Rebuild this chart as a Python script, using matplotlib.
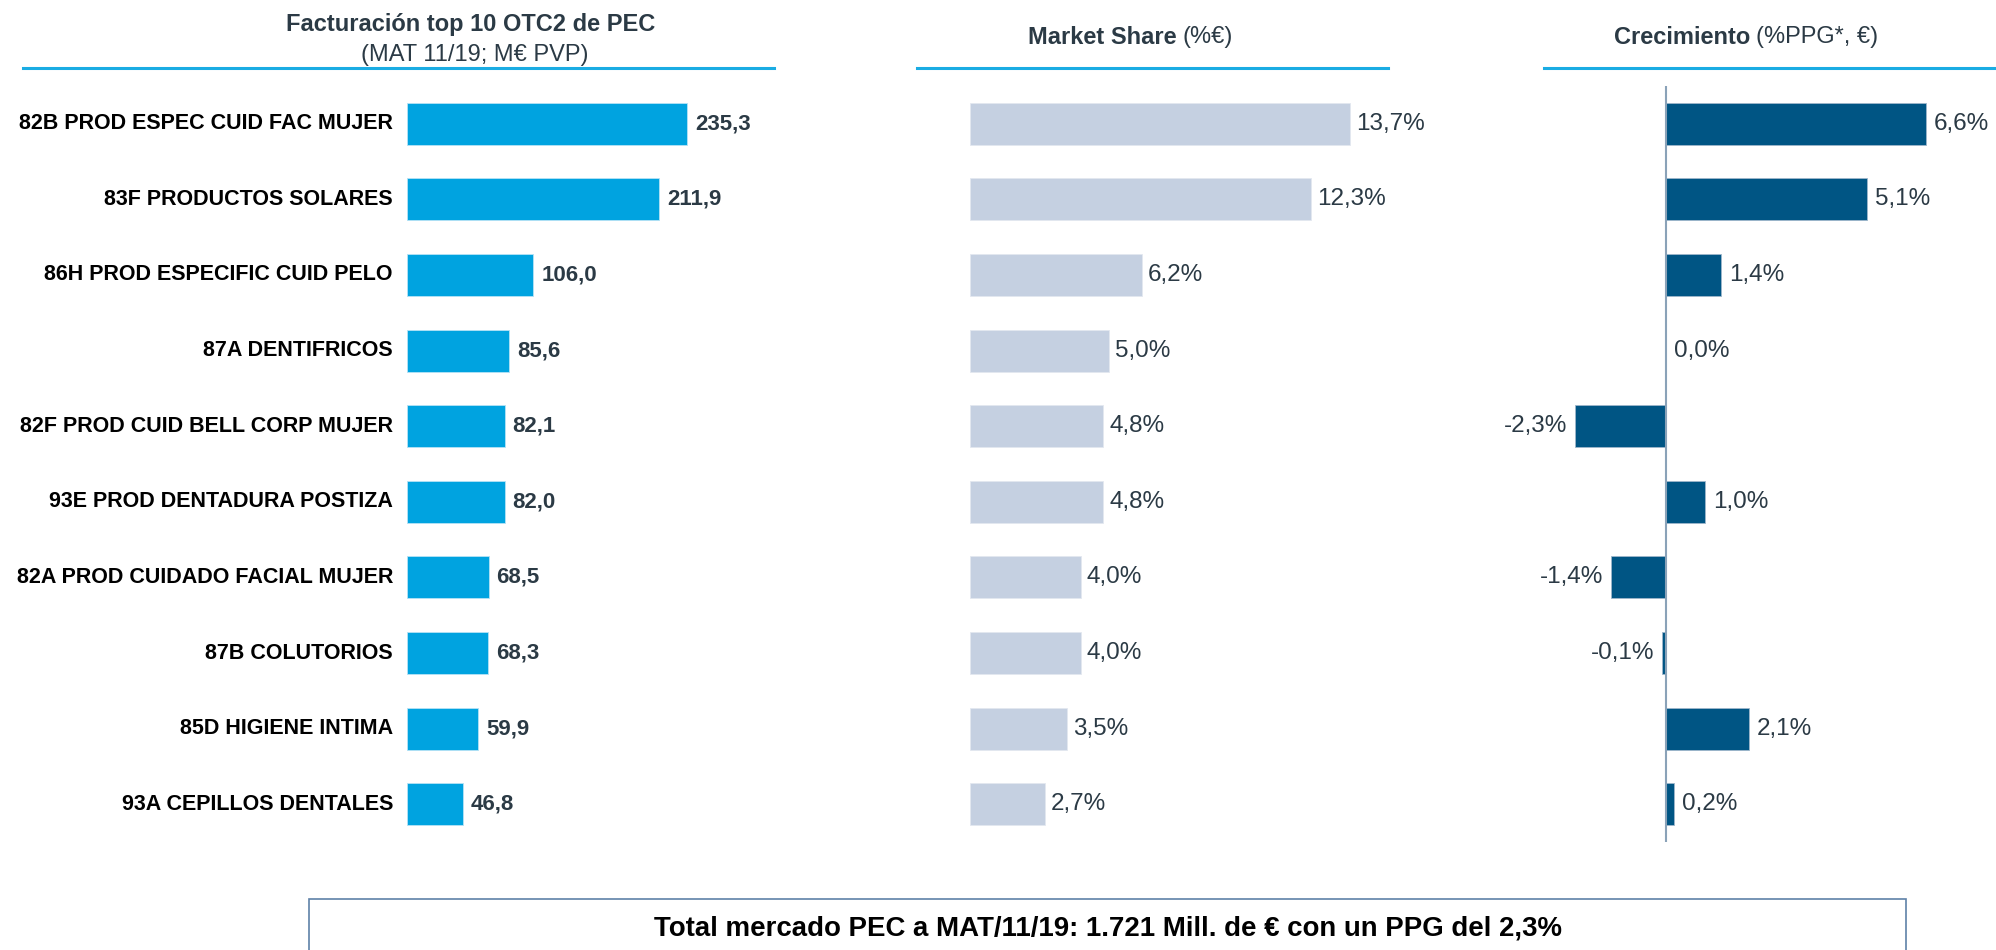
import matplotlib
matplotlib.use("Agg")
import matplotlib.pyplot as plt
from matplotlib.patches import Rectangle

# ---- data ----
categories = [
    "82B PROD ESPEC CUID FAC MUJER",
    "83F PRODUCTOS SOLARES",
    "86H PROD ESPECIFIC CUID PELO",
    "87A DENTIFRICOS",
    "82F PROD CUID BELL CORP MUJER",
    "93E PROD DENTADURA POSTIZA",
    "82A PROD CUIDADO FACIAL MUJER",
    "87B COLUTORIOS",
    "85D HIGIENE INTIMA",
    "93A CEPILLOS DENTALES",
]
facturacion = [235.3, 211.9, 106.0, 85.6, 82.1, 82.0, 68.5, 68.3, 59.9, 46.8]
market_share = [13.7, 12.3, 6.2, 5.0, 4.8, 4.8, 4.0, 4.0, 3.5, 2.7]
crecimiento = [6.6, 5.1, 1.4, 0.0, -2.3, 1.0, -1.4, -0.1, 2.1, 0.2]

total_text = "Total mercado PEC a MAT/11/19: 1.721 Mill. de € con un PPG del 2,3%"

# ---- style ----
plt.rcParams["font.family"] = ["Liberation Sans", "DejaVu Sans"]

C_BAR1 = "#00A3E0"
C_BAR2 = "#C5D0E1"
C_BAR3 = "#005584"
C_TXT = "#2B3A45"
C_RULE = "#1AACE3"

W, H = 1996, 950
fig = plt.figure(figsize=(W / 100, H / 100), dpi=100)

y_top, y_bot = 85.7, 842.3  # pixel rows of the plotting band


def add_axes_px(x0, x1):
    return fig.add_axes([x0 / W, 1 - y_bot / H, (x1 - x0) / W, (y_bot - y_top) / H])


def px(x, y):
    return x / W, 1 - y / H


def fmt(v, dec=1):
    return f"{v:.{dec}f}".replace(".", ",")


n = len(categories)
pos = list(range(n))
bh = 0.555

# panel 1: revenue
ax1 = add_axes_px(407, 800)
ax1.barh(pos, facturacion, height=bh, color=C_BAR1, edgecolor="#B5E3F5", linewidth=0.6)
ax1.set_xlim(0, 393 / 1.19)
for i, (c, v) in enumerate(zip(categories, facturacion)):
    ax1.annotate(c, (0, i), xytext=(-14, 0), textcoords="offset pixels",
                 ha="right", va="center", fontsize=15.5, fontweight="bold", color="black")
    ax1.annotate(fmt(v), (v, i), xytext=(8, 0), textcoords="offset pixels",
                 ha="left", va="center", fontsize=16, fontweight="bold", color=C_TXT)

# panel 2: market share
ax2 = add_axes_px(970, 1500)
ax2.barh(pos, market_share, height=bh, color=C_BAR2, edgecolor="#E3E8F0", linewidth=0.6)
ax2.set_xlim(0, 530 / 27.74)
for i, v in enumerate(market_share):
    ax2.annotate(fmt(v) + "%", (v, i), xytext=(6, 0), textcoords="offset pixels",
                 ha="left", va="center", fontsize=17.5, color=C_TXT)

# panel 3: growth
ax3 = add_axes_px(1500, 1996)
ax3.barh(pos, crecimiento, height=bh, color=C_BAR3, edgecolor="#9FB7CB", linewidth=0.6)
ax3.set_xlim((1500 - 1666) / 39.4, (1996 - 1666) / 39.4)
ax3.axvline(0, color="#8AA2B8", linewidth=1.5, zorder=3)
for i, v in enumerate(crecimiento):
    if v < 0:
        ax3.annotate(fmt(v) + "%", (v, i), xytext=(-8, 0), textcoords="offset pixels",
                     ha="right", va="center", fontsize=17.5, color=C_TXT)
    else:
        ax3.annotate(fmt(v) + "%", (v, i), xytext=(8, 0), textcoords="offset pixels",
                     ha="left", va="center", fontsize=17.5, color=C_TXT)

for ax in (ax1, ax2, ax3):
    ax.set_ylim(n - 0.5, -0.5)
    ax.axis("off")

# headers
fig.text(*px(471, 24), "Facturación top 10 OTC2 de PEC", ha="center", va="center",
         fontsize=17, fontweight="bold", color=C_TXT)
fig.text(*px(475, 55), "(MAT 11/19; M€ PVP)", ha="center", va="center",
         fontsize=17, color=C_TXT)

for x0, x1 in [(23, 774), (917, 1388), (1544, 1996)]:
    fig.add_artist(plt.Line2D([x0 / W, x1 / W], [1 - 68 / H] * 2, color=C_RULE,
                              linewidth=2.2, transform=fig.transFigure))


def split_header(x_split, y, bold, regular):
    fig.text(*px(x_split - 3, y), bold, ha="right", va="center",
             fontsize=17, fontweight="bold", color=C_TXT)
    fig.text(*px(x_split + 3, y), regular, ha="left", va="center",
             fontsize=17, color=C_TXT)


split_header(1180, 37, "Market Share", "(%€)")
split_header(1753, 37, "Crecimiento", "(%PPG*, €)")

# footer box
fig.add_artist(Rectangle((309 / W, 1 - 960 / H), (1906 - 309) / W, (960 - 899) / H,
                         transform=fig.transFigure, fill=False,
                         edgecolor="#5F82A8", linewidth=1.2))
fig.text(*px(1108, 928), total_text, ha="center", va="center",
         fontsize=19.9, fontweight="bold", color="black")

fig.savefig("out.png", dpi=100, facecolor="white")
